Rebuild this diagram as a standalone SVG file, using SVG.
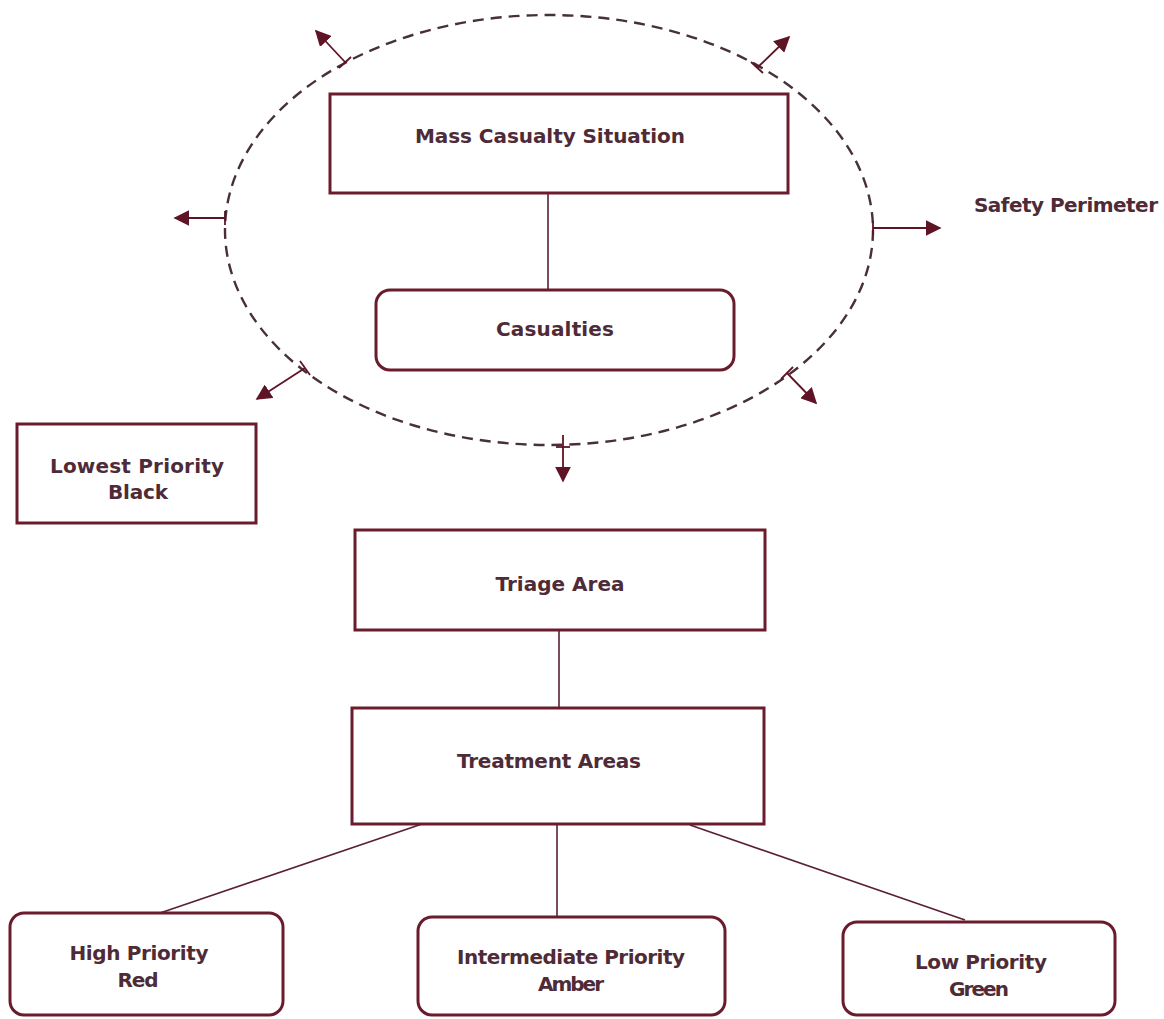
<svg xmlns="http://www.w3.org/2000/svg" width="1164" height="1019" viewBox="0 0 1164 1019">
<defs>
<marker id="ah" viewBox="0 0 10 10" refX="9" refY="5" markerWidth="16" markerHeight="16" markerUnits="userSpaceOnUse" orient="auto">
<path d="M0,0 L10,5 L0,10 z" fill="#5e1425"/>
</marker>
<style>
.box{fill:#fff;stroke:#6a1c2c;stroke-width:3}
.t{font-family:"DejaVu Sans","Liberation Sans",sans-serif;font-weight:bold;font-size:20px;fill:#4e2b37;text-anchor:middle}
.ln{stroke:#5a2030;stroke-width:1.6;fill:none}
.ar{stroke:#5e1425;stroke-width:1.8;fill:none;marker-end:url(#ah)}
.tk{stroke:#5e1425;stroke-width:1.8}
.per{fill:none;stroke:#46303a;stroke-width:2.4;stroke-dasharray:11 7}
</style>
</defs>
<rect width="1164" height="1019" fill="#fff"/>

<g id="perimeter">
<ellipse class="per" cx="549" cy="230" rx="324" ry="215"/>
<text class="t" x="974" y="212" style="text-anchor:start" textLength="184">Safety Perimeter</text>
</g>

<g id="connectors">
<line class="ln" x1="548" y1="193" x2="548" y2="290"/>
<line class="ln" x1="559" y1="630" x2="559" y2="708"/>
<line class="ln" x1="425" y1="823" x2="160" y2="913"/>
<line class="ln" x1="557" y1="823" x2="557" y2="918"/>
<line class="ln" x1="690" y1="825" x2="965" y2="920"/>
<line class="ar" x1="345" y1="62" x2="316" y2="31"/>
<line class="tk" x1="339" y1="68" x2="351" y2="57"/>
<line class="ar" x1="757" y1="68" x2="789" y2="37"/>
<line class="tk" x1="751" y1="62" x2="763" y2="73"/>
<line class="ar" x1="225" y1="218" x2="175" y2="218"/>
<line class="tk" x1="225" y1="211" x2="225" y2="225"/>
<line class="ar" x1="873" y1="228" x2="940" y2="228"/>
<line class="tk" x1="873" y1="221" x2="873" y2="235"/>
<line class="ar" x1="305" y1="368" x2="257" y2="399"/>
<line class="tk" x1="300" y1="361" x2="310" y2="375"/>
<line class="ar" x1="787" y1="373" x2="816" y2="403"/>
<line class="tk" x1="781" y1="379" x2="793" y2="367"/>
<line class="ar" x1="563" y1="435" x2="563" y2="481"/>
<line class="tk" x1="556" y1="447" x2="570" y2="447"/>
</g>

<g id="mass-casualty">
<rect class="box" x="330" y="94" width="458" height="99"/>
<text class="t" x="550" y="143" textLength="270">Mass Casualty Situation</text>
</g>

<g id="casualties">
<rect class="box" x="376" y="290" width="358" height="80" rx="14"/>
<text class="t" x="555" y="336" textLength="118">Casualties</text>
</g>

<g id="lowest-priority">
<rect class="box" x="17" y="424" width="239" height="99"/>
<text class="t" x="137" y="473" textLength="174">Lowest Priority</text>
<text class="t" x="138" y="499" textLength="60">Black</text>
</g>

<g id="triage">
<rect class="box" x="355" y="530" width="410" height="100"/>
<text class="t" x="560" y="591" textLength="129">Triage Area</text>
</g>

<g id="treatment">
<rect class="box" x="352" y="708" width="412" height="116"/>
<text class="t" x="549" y="768" textLength="184">Treatment Areas</text>
</g>

<g id="high-priority">
<rect class="box" x="10" y="913" width="273" height="102" rx="14"/>
<text class="t" x="139" y="960" textLength="139">High Priority</text>
<text class="t" x="138" y="987" textLength="41">Red</text>
</g>

<g id="intermediate-priority">
<rect class="box" x="418" y="917" width="307" height="98" rx="14"/>
<text class="t" x="571" y="964" textLength="228">Intermediate Priority</text>
<text class="t" x="571" y="991" textLength="66">Amber</text>
</g>

<g id="low-priority">
<rect class="box" x="843" y="922" width="272" height="93" rx="14"/>
<text class="t" x="981" y="969" textLength="132">Low Priority</text>
<text class="t" x="979" y="996" textLength="60">Green</text>
</g>
</svg>
